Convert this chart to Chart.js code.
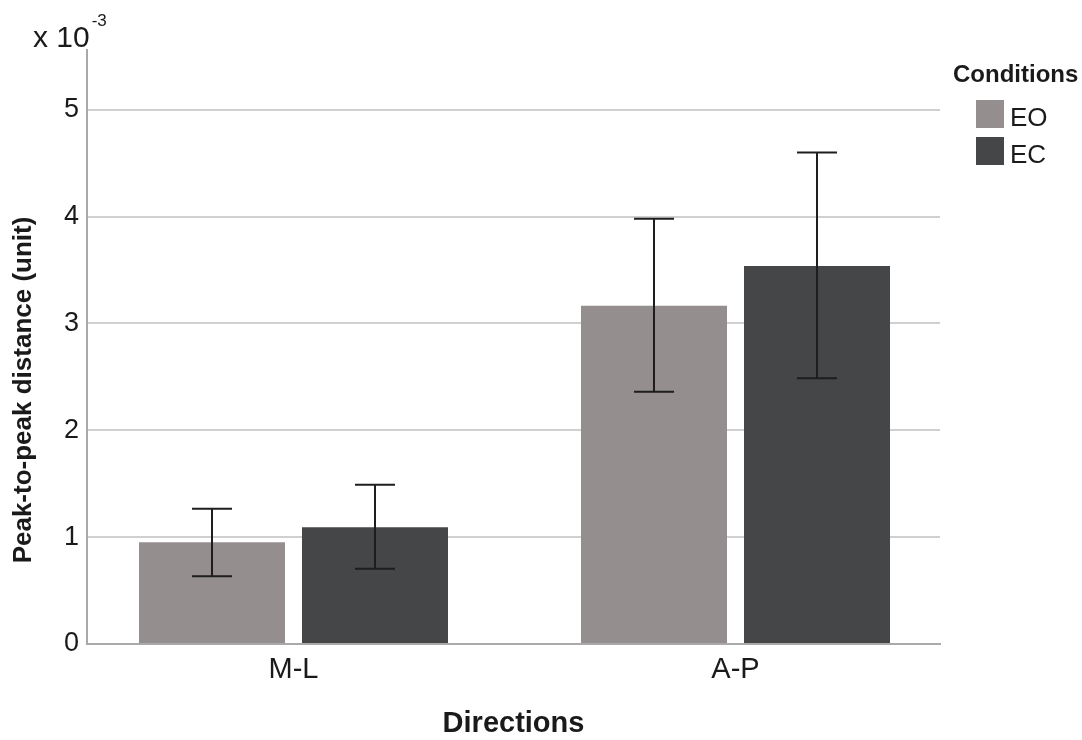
<!DOCTYPE html>
<html>
<head>
<meta charset="utf-8">
<script src="https://cdn.jsdelivr.net/npm/chart.js@4/dist/chart.umd.min.js"></script>
<style>
  html, body { margin: 0; padding: 0; background: #ffffff; }
  #wrap { width: 1082px; height: 740px; }
</style>
</head>
<body>
<div id="wrap"><canvas id="c" width="1082" height="740"></canvas></div>
<script>
// ---- Data ----
const categories = ['M-L', 'A-P'];
const seriesNames = ['EO', 'EC'];
const eoMean  = [0.952, 3.165];
const eoLower = [0.634, 2.362];
const eoUpper = [1.267, 3.980];
const ecMean  = [1.093, 3.539];
const ecLower = [0.705, 2.488];
const ecUpper = [1.490, 4.600];
const yTickValues = [0, 1, 2, 3, 4, 5];
const axisTitleY = 'Peak-to-peak distance (unit)';
const axisTitleX = 'Directions';
const legendTitle = 'Conditions';
const scaleNote = 'x 10';
const scaleExp = '-3';

const colors = ['#948f8e', '#454648'];
const FONT = '"Liberation Sans", Arial, sans-serif';

const lowers = [eoLower, ecLower];
const uppers = [eoUpper, ecUpper];

const errorBarPlugin = {
  id: 'errorBars',
  afterDatasetsDraw(chart) {
    const ctx = chart.ctx;
    const yS = chart.scales.y;
    ctx.save();
    ctx.strokeStyle = '#1e1e1e';
    ctx.lineWidth = 2;
    chart.data.datasets.forEach((ds, di) => {
      const meta = chart.getDatasetMeta(di);
      meta.data.forEach((bar, i) => {
        const x = bar.x;
        const yHi = yS.getPixelForValue(uppers[di][i]);
        const yLo = yS.getPixelForValue(lowers[di][i]);
        const cap = 20;
        ctx.beginPath();
        ctx.moveTo(x, yHi); ctx.lineTo(x, yLo);
        ctx.moveTo(x - cap, yHi); ctx.lineTo(x + cap, yHi);
        ctx.moveTo(x - cap, yLo); ctx.lineTo(x + cap, yLo);
        ctx.stroke();
      });
    });
    ctx.restore();
  }
};

const extrasPlugin = {
  id: 'extras',
  afterDraw(chart) {
    const ctx = chart.ctx;
    ctx.save();
    ctx.fillStyle = '#1a1a1a';
    ctx.textBaseline = 'alphabetic';
    ctx.textAlign = 'left';
    // scale note "x 10^-3"
    ctx.font = '30px ' + FONT;
    ctx.fillText(scaleNote, 33, 47);
    const w = ctx.measureText(scaleNote).width;
    ctx.font = '17px ' + FONT;
    ctx.fillText(scaleExp, 33 + w + 2, 26);
    // y-axis title
    ctx.save();
    ctx.translate(24, 390);
    ctx.rotate(-Math.PI / 2);
    ctx.textAlign = 'center';
    ctx.textBaseline = 'middle';
    ctx.font = 'bold 26px ' + FONT;
    ctx.fillText(axisTitleY, 0, 0);
    ctx.restore();
    // legend
    ctx.font = 'bold 24px ' + FONT;
    ctx.fillText(legendTitle, 953, 82);
    chart.data.datasets.forEach((ds, di) => {
      const top = 100 + di * 37;
      ctx.fillStyle = ds.backgroundColor;
      ctx.fillRect(976, top, 28, 28);
      ctx.fillStyle = '#1a1a1a';
      ctx.font = '26px ' + FONT;
      ctx.fillText(ds.label, 1010, top + 26);
    });
    ctx.restore();
  }
};

new Chart(document.getElementById('c'), {
  type: 'bar',
  data: {
    datasets: [
      { label: seriesNames[0], data: categories.map((c, i) => ({ x: i + 1, y: eoMean[i] })), backgroundColor: colors[0] },
      { label: seriesNames[1], data: categories.map((c, i) => ({ x: i + 1, y: ecMean[i] })), backgroundColor: colors[1] }
    ]
  },
  options: {
    responsive: false,
    animation: false,
    categoryPercentage: 0.7376,
    barPercentage: 0.8957,
    layout: { padding: { left: 0, right: 142, top: 50, bottom: 0 } },
    plugins: { legend: { display: false }, tooltip: { enabled: false } },
    scales: {
      x: {
        type: 'linear',
        offset: false,
        min: 0.53281,
        max: 2.46267,
        afterBuildTicks: (s) => { s.ticks = categories.map((c, i) => ({ value: i + 1 })); },
        afterFit: (s) => { s.height = 96; },
        grid: { display: false, drawTicks: false, offset: false },
        border: { display: true, color: '#a9a9a9', width: 2 },
        ticks: {
          callback: (v) => categories[Math.round(v) - 1],
          color: '#1a1a1a',
          font: { family: FONT, size: 29 },
          padding: 9,
          maxRotation: 0,
          autoSkip: false
        },
        title: {
          display: true,
          text: axisTitleX,
          color: '#1a1a1a',
          font: { family: FONT, size: 29, weight: 'bold', lineHeight: 1 },
          padding: { top: 0, bottom: 2 }
        }
      },
      y: {
        min: 0,
        max: 5.56,
        afterBuildTicks: (s) => { s.ticks = yTickValues.map(v => ({ value: v })); },
        afterFit: (s) => { s.width = 87; },
        grid: { color: '#d0d0d0', lineWidth: 2, drawTicks: false },
        border: { display: true, color: '#a9a9a9', width: 2 },
        ticks: {
          color: '#1a1a1a',
          font: { family: FONT, size: 27 },
          padding: 8
        },
        title: { display: false }
      }
    }
  },
  plugins: [errorBarPlugin, extrasPlugin]
});
</script>
</body>
</html>
